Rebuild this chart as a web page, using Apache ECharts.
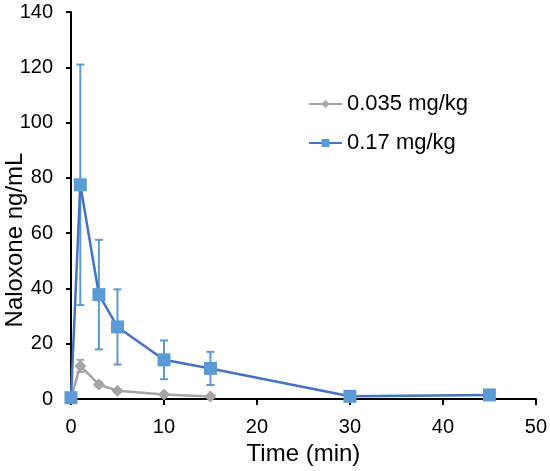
<!DOCTYPE html>
<html>
<head>
<meta charset="utf-8">
<script src="https://cdn.jsdelivr.net/npm/echarts@6/dist/echarts.min.js"></script>
<style>html,body{margin:0;padding:0;background:#fff}#c{width:550px;height:471px}</style>
</head>
<body>
<div id="c"></div>
<script>
var timesLow = [0, 1, 3, 5, 10, 15];
var lowMean = [0.5, 12, 5.3, 3, 1.7, 0.9];
var lowSD = [0, 2.2, 0.8, 0.5, 0.3, 0.2];
var timesHigh = [0, 1, 3, 5, 10, 15, 30, 45];
var highMean = [0.5, 77.5, 37.8, 26.1, 14.2, 11.1, 1, 1.5];
var highSD = [0, 43.5, 19.8, 13.6, 7, 6, 0.5, 0.5];
var xTicks = [0, 10, 20, 30, 40, 50];
var yTicks = [0, 20, 40, 60, 80, 100, 120, 140];
var yTitle = 'Naloxone ng/mL';
var xTitle = 'Time (min)';

function pairs(xs, ys) { return xs.map(function (x, i) { return [x, ys[i]]; }); }
function errData(xs, m, sd) { return xs.map(function (x, i) { return [x, m[i] - sd[i], m[i] + sd[i]]; }); }
function errRender(color) {
  return function (params, api) {
    var x = api.value(0);
    var lo = api.coord([x, api.value(1)]);
    var hi = api.coord([x, api.value(2)]);
    var w = 4;
    var st = { stroke: color, lineWidth: 2 };
    return {
      type: 'group',
      children: [
        { type: 'line', shape: { x1: lo[0], y1: lo[1], x2: hi[0], y2: hi[1] }, style: st },
        { type: 'line', shape: { x1: lo[0] - w, y1: lo[1], x2: lo[0] + w, y2: lo[1] }, style: st },
        { type: 'line', shape: { x1: hi[0] - w, y1: hi[1], x2: hi[0] + w, y2: hi[1] }, style: st }
      ]
    };
  };
}

var chart = echarts.init(document.getElementById('c'), null, { renderer: 'canvas' });
var font = 'Liberation Sans, Arial, sans-serif';
chart.setOption({
  animation: false,
  textStyle: { fontFamily: font },
  grid: { left: 71, right: 13, top: 12, bottom: 68 },
  graphic: [{
    type: 'text', x: 15, y: 240, rotation: Math.PI / 2,
    style: {
      text: yTitle, fill: '#000', font: '24px ' + font,
      align: 'center', verticalAlign: 'middle',
      textAlign: 'center', textVerticalAlign: 'middle'
    }
  }],
  legend: {
    orient: 'vertical', left: 308, top: 93, padding: 0, itemGap: 17, itemWidth: 33, itemHeight: 10,
    textStyle: { fontSize: 22, color: '#000', fontFamily: font },
    data: ['0.035 mg/kg', '0.17 mg/kg']
  },
  xAxis: {
    type: 'value', min: 0, max: 50, interval: 10,
    name: xTitle, nameLocation: 'middle', nameGap: 39,
    nameTextStyle: { fontSize: 24, color: '#000', fontFamily: font },
    axisLine: { lineStyle: { color: '#000', width: 2 } },
    axisTick: { show: true, length: 6, lineStyle: { color: '#000', width: 2 } },
    axisLabel: { fontSize: 20, color: '#000', margin: 18, fontFamily: font },
    splitLine: { show: false }
  },
  yAxis: {
    type: 'value', min: 0, max: 140, interval: 20,
    axisLine: { show: true, lineStyle: { color: '#000', width: 2 } },
    axisTick: { show: true, length: 5, lineStyle: { color: '#000', width: 2 } },
    axisLabel: { fontSize: 20, color: '#000', margin: 18, fontFamily: font },
    splitLine: { show: false }
  },
  series: [
    {
      type: 'custom', name: 'errLow', renderItem: errRender('#a5a5a5'),
      data: errData(timesLow, lowMean, lowSD), z: 1, silent: true
    },
    {
      type: 'line', name: '0.035 mg/kg', data: pairs(timesLow, lowMean),
      symbol: 'diamond', symbolSize: 12,
      lineStyle: { color: '#a5a5a5', width: 2.5 },
      itemStyle: { color: '#a5a5a5' }, z: 2
    },
    {
      type: 'custom', name: 'errHigh', renderItem: errRender('#5b9bd5'),
      data: errData(timesHigh, highMean, highSD), z: 3, silent: true
    },
    {
      type: 'line', name: '0.17 mg/kg', data: pairs(timesHigh, highMean),
      symbol: 'rect', symbolSize: 13,
      lineStyle: { color: '#4472c4', width: 2.5 },
      itemStyle: { color: '#5b9bd5' }, z: 4
    }
  ]
});
</script>
</body>
</html>
